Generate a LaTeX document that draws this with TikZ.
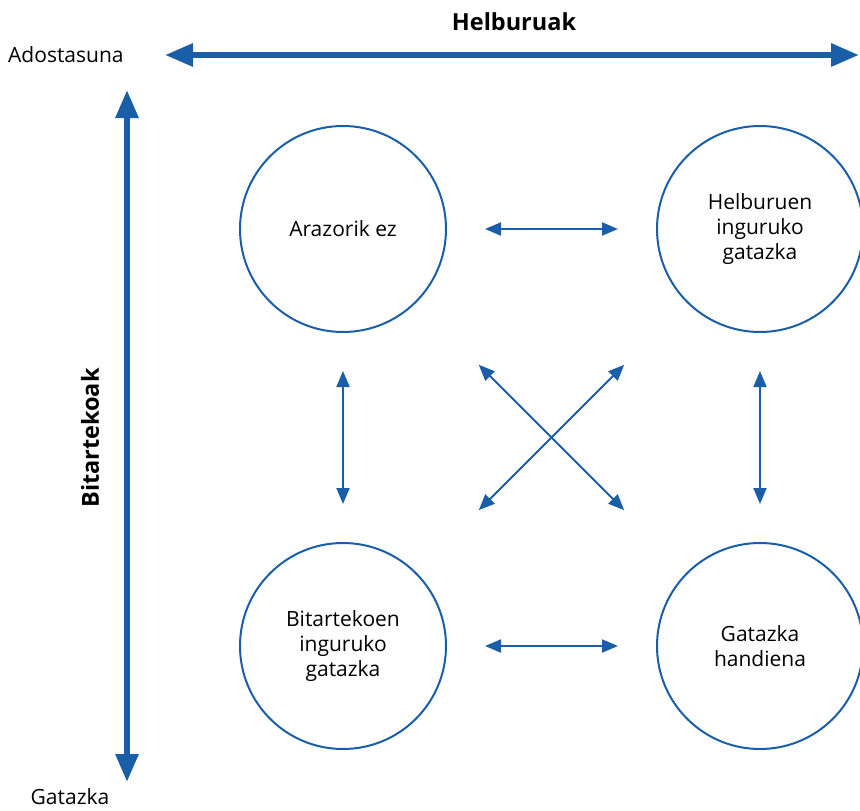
\documentclass[tikz,border=0pt]{standalone}
\usepackage{fontspec}
\setmainfont{Open Sans}
\usetikzlibrary{arrows.meta}
\definecolor{axisblue}{RGB}{26,94,168}

\begin{document}
\begin{tikzpicture}[x=1pt, y=-1pt, >={Triangle[length=16pt,width=13pt]}, node distance=417pt]
		\tikzstyle{state} = [draw=axisblue, line width=2pt, circle, minimum size=206pt, inner sep=0pt, align=center, font=\fontsize{21}{25}\selectfont]
		\tikzstyle{axis} = [axisblue, line width=6pt, {Triangle[length=28pt,width=22pt]}-{Triangle[length=28pt,width=22pt]}]
		\tikzstyle{link} = [axisblue, line width=2pt, <->]
		\tikzstyle{label} = [font=\fontsize{21}{24}\selectfont, inner sep=0pt]
		\tikzstyle{title} = [font=\bfseries\fontsize{23.5}{26}\selectfont, inner sep=0pt]

		\useasboundingbox (0,0) rectangle (860,811);

		\coordinate (hl) at (165,55);
		\coordinate (hr) at (859,55);
		\coordinate (vt) at (127,90);
		\coordinate (vb) at (127,782);

		\begin{scope}[]
		\path

		node[state] (a) at (343,229) {Arazorik ez}
		node[state, right of=a] (b) {Helburuen\\inguruko\\gatazka}
		node[state, below of=a] (c) {Bitartekoen\\inguruko\\gatazka}
		node[state, below of=b] (d) {Gatazka\\handiena}

		node[title] (helb) at (514,22) {Helburuak}
		node[title, rotate=90] (bitar) at (90,438) {Bitartekoak}
		node[label, anchor=west] (ados) at (8,55) {Adostasuna}
		node[label] (gat) at (70,797) {Gatazka}

		(hl) edge[axis] (hr)
		(vt) edge[axis] (vb)

		(a) edge[link, shorten <=38pt, shorten >=38pt] (b)
		(c) edge[link, shorten <=38pt, shorten >=38pt] (d)
		(a) edge[link, shorten <=38pt, shorten >=38pt] (c)
		(b) edge[link, shorten <=38pt, shorten >=38pt] (d)
		(a) edge[link, shorten <=88pt, shorten >=88pt] (d)
		(b) edge[link, shorten <=88pt, shorten >=88pt] (c)
		;
		\end{scope}

\end{tikzpicture}
\end{document}
